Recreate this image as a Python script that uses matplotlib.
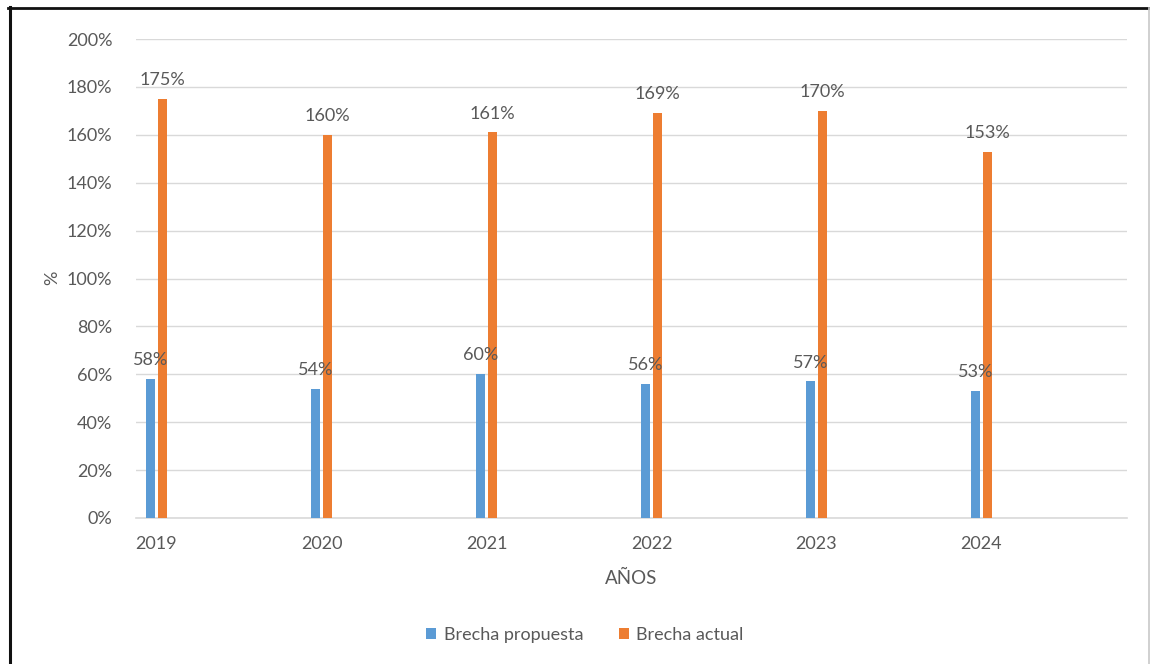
import matplotlib
matplotlib.use("Agg")
import matplotlib.pyplot as plt
from matplotlib.lines import Line2D
from matplotlib.patches import Patch
import numpy as np

plt.rcParams['font.family'] = ['Lato', 'DejaVu Sans']

years = ["2019", "2020", "2021", "2022", "2023", "2024"]
brecha_propuesta = [58, 54, 60, 56, 57, 53]
brecha_actual = [175, 160, 161, 169, 170, 153]
series_names = ["Brecha propuesta", "Brecha actual"]
y_ticks = [0, 20, 40, 60, 80, 100, 120, 140, 160, 180, 200]

BLUE = "#5B9BD5"
ORANGE = "#ED7D31"
TEXT = "#595959"
GRID = "#D9D9D9"
FS = 13

W, H, DPI = 1150, 664, 100
fig = plt.figure(figsize=(W / DPI, H / DPI), dpi=DPI)

# plot area in pixel coordinates
left, right, top, bottom = 136, 1127, 39, 518
ax = fig.add_axes([left / W, 1 - bottom / H, (right - left) / W, (bottom - top) / H])

x = np.arange(len(years))
bw = 0.055
off = 0.037
ax.bar(x - off, brecha_propuesta, width=bw, color=BLUE, zorder=3)
ax.bar(x + off, brecha_actual, width=bw, color=ORANGE, zorder=3)

for xi, v in zip(x, brecha_propuesta):
    ax.annotate(f"{v}%", (xi - off, v), xytext=(0, 10), textcoords="offset points",
                ha="center", va="baseline", fontsize=FS, color=TEXT, zorder=4)
for xi, v in zip(x, brecha_actual):
    ax.annotate(f"{v}%", (xi + off, v), xytext=(0, 10), textcoords="offset points",
                ha="center", va="baseline", fontsize=FS, color=TEXT, zorder=4)

ax.set_xlim(-0.124, 5.882)
ax.set_ylim(0, 200)
ax.set_yticks(y_ticks)
ax.set_yticklabels([f"{t}%" for t in y_ticks])
ax.set_xticks(x)
ax.set_xticklabels(years)
ax.tick_params(axis="both", length=0, colors=TEXT, labelsize=FS)
ax.tick_params(axis="y", pad=17)
ax.tick_params(axis="x", pad=13)
ax.grid(axis="y", color=GRID, linewidth=1, zorder=0)
for s in ["top", "right", "left"]:
    ax.spines[s].set_visible(False)
ax.spines["bottom"].set_color(GRID)
ax.spines["bottom"].set_linewidth(1.2)

fig.text(52 / W, 1 - 278 / H, "%", rotation=90, ha="center", va="center",
         fontsize=FS, color=TEXT)
fig.text(631 / W, 1 - 578 / H, "AÑOS", ha="center", va="center",
         fontsize=FS + 0.5, color=TEXT)

handles = [Patch(facecolor=BLUE, edgecolor="none"), Patch(facecolor=ORANGE, edgecolor="none")]
fig.legend(handles, series_names, loc="center", bbox_to_anchor=(585 / W, 1 - 635 / H),
           ncol=2, frameon=False, fontsize=FS, labelcolor=TEXT,
           handlelength=0.55, handleheight=0.55, handletextpad=0.4, columnspacing=2.0)

# outer frame
fig.add_artist(Line2D([9.5 / W, 9.5 / W], [0, 1 - 7 / H], transform=fig.transFigure,
                      color="#111111", linewidth=2.2))
fig.add_artist(Line2D([8 / W, 1], [1 - 7.5 / H, 1 - 7.5 / H], transform=fig.transFigure,
                      color="#111111", linewidth=2.0))
fig.add_artist(Line2D([1148.5 / W, 1148.5 / W], [0, 1 - 8 / H], transform=fig.transFigure,
                      color="#C8C8C8", linewidth=1.2))

fig.savefig("out.png", dpi=DPI, facecolor="white")
